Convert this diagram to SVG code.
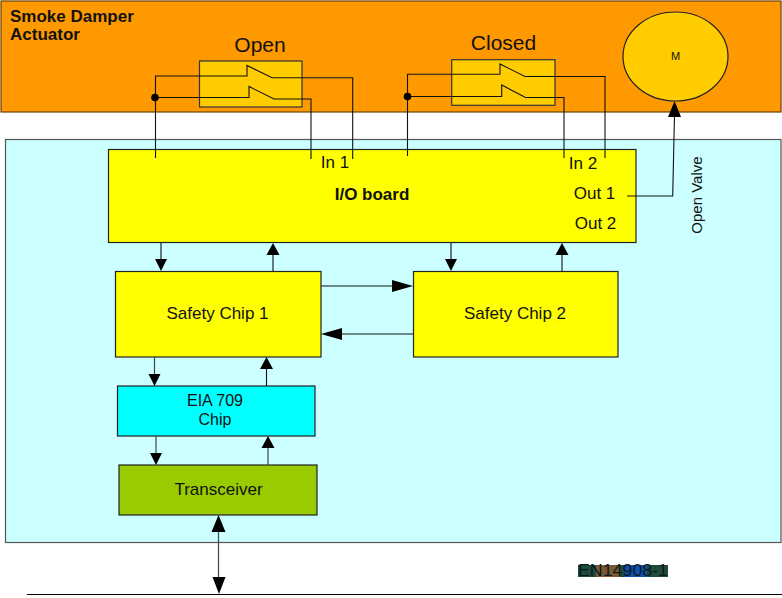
<svg xmlns="http://www.w3.org/2000/svg" width="782" height="598" viewBox="0 0 782 598">
<style>
text{font-family:"Liberation Sans",Arial,sans-serif;fill:#111;text-anchor:middle}
.n{stroke:#222;stroke-width:1.2}
.w{fill:none;stroke:#111;stroke-width:1.1}
.g{fill:none;stroke:#444;stroke-width:1.2}
.h{fill:#000;stroke:none}
</style>
<rect width="782" height="598" fill="#fff"/>
<g id="actuator">
<rect x="1" y="1" width="780" height="111" fill="#ff9900" stroke="#6b4000" stroke-width="1.2"/>
<text x="10" y="22" font-size="17" font-weight="bold" style="text-anchor:start">Smoke Damper</text>
<text x="10" y="40" font-size="17" font-weight="bold" style="text-anchor:start">Actuator</text>
</g>
<g id="controller"><rect x="5.500" y="139.500" width="775.500" height="403" fill="#ccffff" stroke="#555" stroke-width="1.2"/></g>
<g id="switch-open">
<rect x="199.500" y="61" width="102.500" height="46" fill="#ffcc00" stroke="#333" stroke-width="1.2"/>
<text x="260" y="52" font-size="21">Open</text>
</g>
<g id="switch-closed">
<rect x="451.700" y="59.700" width="103.300" height="45.600" fill="#ffcc00" stroke="#333" stroke-width="1.2"/>
<text x="503.500" y="50" font-size="21">Closed</text>
</g>
<g id="motor">
<ellipse cx="675.500" cy="56.500" rx="52.500" ry="44.500" fill="#ffcc00" stroke="#222" stroke-width="1.2"/>
<text x="675.500" y="60" font-size="11">M</text>
</g>
<g id="io-board">
<rect class="n" x="108.500" y="149.500" width="527.500" height="93" fill="#ffff00"/>
<text x="372" y="200" font-size="17" font-weight="bold">I/O board</text>
<text x="335" y="168" font-size="17">In 1</text>
<text x="583" y="169" font-size="17">In 2</text>
<text x="594.500" y="199" font-size="17">Out 1</text>
<text x="595.500" y="229" font-size="17">Out 2</text>
</g>
<g id="safety-chip-1"><rect class="n" x="115.500" y="271.500" width="205.500" height="85.500" fill="#ffff00"/><text x="217.500" y="319" font-size="17">Safety Chip 1</text></g>
<g id="safety-chip-2"><rect class="n" x="413.500" y="271.500" width="204.500" height="85.500" fill="#ffff00"/><text x="515" y="319" font-size="17">Safety Chip 2</text></g>
<g id="eia-709-chip"><rect class="n" x="117.500" y="386" width="197.500" height="50" fill="#00ffff"/><text x="215" y="406" font-size="16">EIA 709</text><text x="215" y="425" font-size="16">Chip</text></g>
<g id="transceiver"><rect class="n" x="119" y="465" width="198" height="50" fill="#99cc00"/><text x="218.500" y="494.500" font-size="17">Transceiver</text></g>
<g id="connectors">
<path class="w" d="M155.500 158V76H247V65.500L272 77.700H352.700V159"/>
<path class="w" d="M155.500 97.500H249V86.500L274 99H311V159"/>
<circle class="h" cx="155" cy="97.500" r="3.800"/>
<path class="w" d="M407.500 156V74.300H500V64L525 76.500H605V158"/>
<path class="w" d="M407.500 96.500H501.700V85L525.500 97.500H564V158"/>
<circle class="h" cx="407.500" cy="96.500" r="3.800"/>
<path class="w" d="M627 196H672.700L674.500 115"/>
<path class="h" d="M674.500 101L681 117H668Z"/>
<path class="w" d="M161 243V259"/><path class="h" d="M161 271L155 259H167Z"/>
<path class="w" d="M273 271V255"/><path class="h" d="M273 243L279.500 255H266.500Z"/>
<path class="w" d="M451 243V259"/><path class="h" d="M451 271L445 259H457Z"/>
<path class="w" d="M562 271V255"/><path class="h" d="M562 243L568.500 255H555.500Z"/>
<path class="w" d="M321 286H393"/><path class="h" d="M413 286L392 280V292Z"/>
<path class="w" d="M413 334H341"/><path class="h" d="M321 334L342 328V340Z"/>
<path class="g" d="M154.500 357V374"/><path class="h" d="M154.500 386L148.500 374H160.500Z"/>
<path class="w" d="M266.500 386V369"/><path class="h" d="M266.500 357L273 369H260Z"/>
<path class="g" d="M156 436V453"/><path class="h" d="M156 465L150 453H162Z"/>
<path class="g" d="M268 465V448"/><path class="h" d="M268 436L274.500 448H261.500Z"/>
<path class="g" d="M218.500 530V578"/><path class="h" d="M218.500 515L225.500 532H211.500Z"/><path class="h" d="M219 594L212.500 577H225.500Z"/>
<path d="M27 594.500H782" stroke="#000" stroke-width="1.200"/>
</g>
<text transform="translate(702 195) rotate(-90)" font-size="15">Open Valve</text>
<g id="document-code">
<rect x="578" y="565" width="90" height="12" fill="#1f4a3c"/>
<rect x="596" y="565" width="24" height="12" fill="#7a5a30"/>
<rect x="625" y="565" width="22" height="12" fill="#1050b0"/>
<text x="623" y="576" font-size="16" textLength="90" lengthAdjust="spacingAndGlyphs" style="fill:#0a1a20">EN14908-1</text>
</g>
</svg>
